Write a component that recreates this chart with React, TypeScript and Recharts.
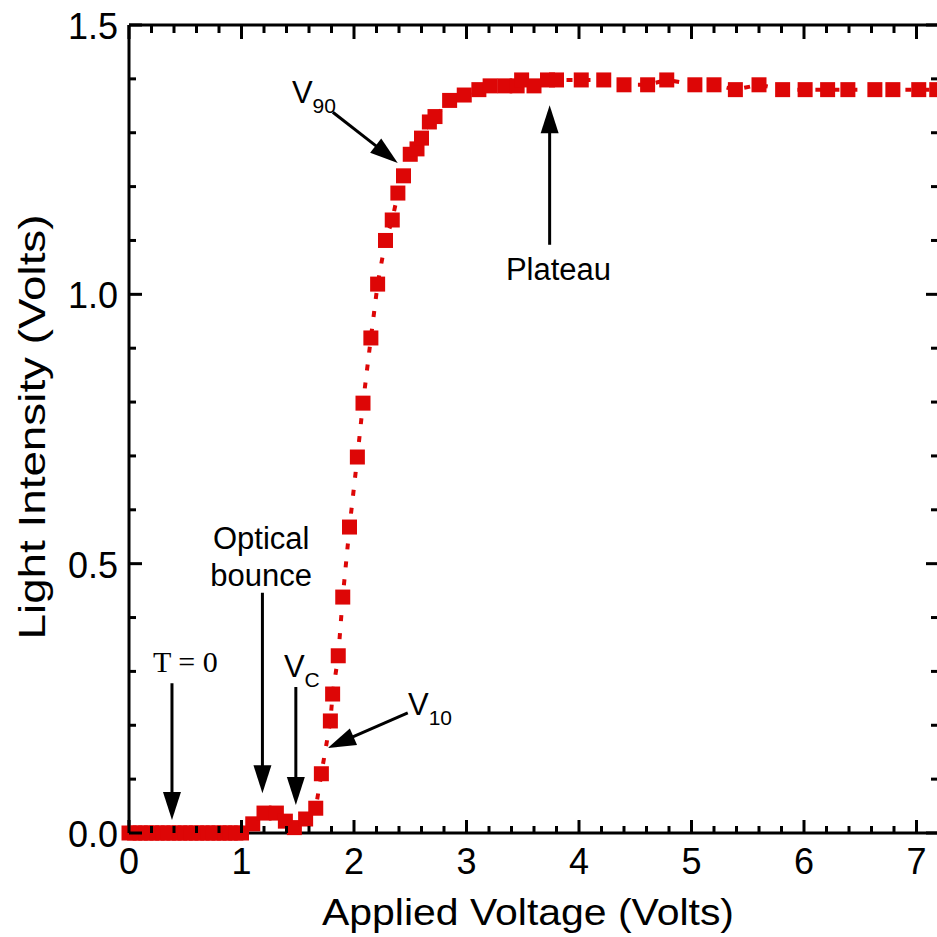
import React from 'react';
import { LineChart, Line, XAxis, YAxis, ReferenceLine, ReferenceDot } from 'recharts';

const voltage = [
  0, 0.05, 0.1, 0.15, 0.2, 0.25, 0.3, 0.35, 0.4, 0.45, 0.5, 0.55, 0.6, 0.65, 0.7, 0.75, 0.8, 0.85, 0.9, 0.95, 1.0,
  1.1, 1.2, 1.31, 1.39, 1.47, 1.57, 1.66, 1.71, 1.79, 1.81, 1.86, 1.9, 1.96, 2.03, 2.08, 2.15, 2.21, 2.28, 2.34,
  2.39, 2.44, 2.5, 2.56, 2.6, 2.67, 2.72, 2.85, 2.98, 3.11, 3.21, 3.34, 3.45, 3.49, 3.6, 3.72, 3.8, 4.02, 4.22,
  4.4, 4.61, 4.78, 5.03, 5.2, 5.39, 5.6, 5.81, 6.01, 6.21, 6.39, 6.63, 6.79, 7.02, 7.18,
];
const intensity = [
  0, 0, 0, 0, 0, 0, 0, 0, 0, 0, 0, 0, 0, 0, 0, 0, 0, 0, 0, 0, 0,
  0.017, 0.037, 0.037, 0.022, 0.01, 0.026, 0.046, 0.11, 0.208, 0.258, 0.329, 0.438, 0.568, 0.698, 0.798, 0.919,
  1.019, 1.1, 1.138, 1.188, 1.22, 1.26, 1.27, 1.29, 1.32, 1.33, 1.36, 1.37, 1.38, 1.387, 1.387, 1.387, 1.398,
  1.387, 1.398, 1.398, 1.398, 1.398, 1.389, 1.389, 1.398, 1.389, 1.389, 1.38, 1.389, 1.38, 1.38, 1.38, 1.38,
  1.38, 1.38, 1.38, 1.38,
];

const xTicks = [
  0, 0.2, 0.4, 0.6, 0.8, 1, 1.2, 1.4, 1.6, 1.8, 2, 2.2, 2.4, 2.6, 2.8, 3, 3.2, 3.4, 3.6, 3.8, 4, 4.2, 4.4, 4.6,
  4.8, 5, 5.2, 5.4, 5.6, 5.8, 6, 6.2, 6.4, 6.6, 6.8, 7, 7.2,
];
const yTicks = [0, 0.1, 0.2, 0.3, 0.4, 0.5, 0.6, 0.7, 0.8, 0.9, 1.0, 1.1, 1.2, 1.3, 1.4, 1.5];

// annotation arrows: tail -> tip, in data units
const arrows = [
  { from: [0.382, 0.278], to: [0.382, 0.024] },
  { from: [1.186, 0.446], to: [1.186, 0.074] },
  { from: [1.483, 0.271], to: [1.483, 0.052] },
  { from: [2.478, 0.223], to: [1.767, 0.158] },
  { from: [1.812, 1.338], to: [2.389, 1.244] },
  { from: [3.739, 1.092], to: [3.739, 1.351] },
];

const notes = [
  { x: 0.213, y: 0.299, text: 'T = 0', serif: true },
  { x: 3.35, y: 1.027, text: 'Plateau' },
];
const twoLine = { x: 1.175, y: 0.527, lines: ['Optical', 'bounce'] };
const vLabels = [
  { x: 1.377, y: 0.29, sub: 'C' },
  { x: 2.48, y: 0.219, sub: '10' },
  { x: 1.448, y: 1.355, sub: '90' },
];

const data = voltage.map((v, i) => ({ v, light: intensity[i] }));

const RED = '#dd0606';
const FONT = '"Liberation Sans", Arial, Helvetica, sans-serif';

const isMajorX = (v: number) => Math.abs(v - Math.round(v)) < 1e-6;
const isMajorY = (v: number) => Math.abs(v * 2 - Math.round(v * 2)) < 1e-6;

// all frame ticks point into the plot
const BottomTick = ({ x, y, payload }: any) => {
  const major = isMajorX(payload.value);
  return (
    <g>
      <line x1={x} y1={y} x2={x} y2={y - (major ? 13 : 7)} stroke="#000" strokeWidth={3} />
      {major && (
        <text x={x} y={y + 41} textAnchor="middle" fontSize={36} fontFamily={FONT} fill="#000">
          {payload.value}
        </text>
      )}
    </g>
  );
};

const TopTick = ({ x, y, payload }: any) => {
  const major = isMajorX(payload.value);
  return <line x1={x} y1={y} x2={x} y2={y + (major ? 14 : 8)} stroke="#000" strokeWidth={3} />;
};

const LeftTick = ({ x, y, payload }: any) => {
  const major = isMajorY(payload.value);
  return (
    <g>
      <line x1={x} y1={y} x2={x + (major ? 13 : 7)} y2={y} stroke="#000" strokeWidth={3} />
      {major && (
        <text x={x - 11} y={y + 14} textAnchor="end" fontSize={36} fontFamily={FONT} fill="#000">
          {payload.value.toFixed(1)}
        </text>
      )}
    </g>
  );
};

const RightTick = ({ x, y, payload }: any) => {
  const major = isMajorY(payload.value);
  return <line x1={x} y1={y} x2={x - (major ? 13 : 8)} y2={y} stroke="#000" strokeWidth={3} />;
};

const Square = ({ cx, cy }: any) => {
  if (cx == null || cy == null) return null;
  return <rect x={cx - 7.5} y={cy - 7.5} width={15} height={15} fill={RED} />;
};

const Arrow = ({ x1, y1, x2, y2 }: any) => {
  const dx = x2 - x1;
  const dy = y2 - y1;
  const len = Math.hypot(dx, dy) || 1;
  const ux = dx / len;
  const uy = dy / len;
  const hl = 28;
  const hw = 9;
  const bx = x2 - ux * hl;
  const by = y2 - uy * hl;
  const pts = `${x2},${y2} ${bx - uy * hw},${by + ux * hw} ${bx + uy * hw},${by - ux * hw}`;
  return (
    <g>
      <line x1={x1} y1={y1} x2={bx + ux * 2} y2={by + uy * 2} stroke="#000" strokeWidth={3} />
      <polygon points={pts} fill="#000" />
    </g>
  );
};

export default function App() {
  return (
    <div style={{ position: 'fixed', left: 0, top: 0, width: 937, height: 937, overflow: 'hidden', background: '#fff' }}>
      <LineChart width={950} height={937} data={data} margin={{ top: 24, right: 10, bottom: 0, left: 0 }}>
        <XAxis
          dataKey="v"
          type="number"
          domain={[0, 7.2]}
          ticks={xTicks}
          interval={0}
          height={104}
          tickSize={0}
          tickMargin={0}
          tickLine={false}
          tick={BottomTick}
          axisLine={{ stroke: '#000', strokeWidth: 3 }}
          label={({ viewBox }: any) => (
            <text
              x={528}
              y={viewBox.y + 92}
              textAnchor="middle"
              fontSize={36}
              textLength={412}
              lengthAdjust="spacingAndGlyphs"
              fontFamily={FONT}
              fill="#000"
            >
              Applied Voltage (Volts)
            </text>
          )}
        />
        <XAxis
          xAxisId="top"
          dataKey="v"
          orientation="top"
          type="number"
          domain={[0, 7.2]}
          ticks={xTicks}
          interval={0}
          height={1}
          tickSize={0}
          tickMargin={0}
          tickLine={false}
          tick={TopTick}
          axisLine={{ stroke: '#000', strokeWidth: 3 }}
        />
        <YAxis
          type="number"
          domain={[0, 1.5]}
          ticks={yTicks}
          interval={0}
          width={129}
          tickSize={0}
          tickMargin={0}
          tickLine={false}
          tick={LeftTick}
          axisLine={{ stroke: '#000', strokeWidth: 3 }}
          label={() => {
            const cy = 427;
            return (
              <text
                x={45}
                y={cy}
                transform={`rotate(-90, 45, ${cy})`}
                textAnchor="middle"
                fontSize={36}
                textLength={425}
                lengthAdjust="spacingAndGlyphs"
                fontFamily={FONT}
                fill="#000"
              >
                Light Intensity (Volts)
              </text>
            );
          }}
        />
        <YAxis
          yAxisId="right"
          orientation="right"
          type="number"
          domain={[0, 1.5]}
          ticks={yTicks}
          interval={0}
          width={1}
          tickSize={0}
          tickMargin={0}
          tickLine={false}
          tick={RightTick}
          axisLine={{ stroke: '#000', strokeWidth: 3 }}
        />

        {arrows.map((a, i) => (
          <ReferenceLine
            key={`ar${i}`}
            segment={[
              { x: a.from[0], y: a.from[1] },
              { x: a.to[0], y: a.to[1] },
            ]}
            ifOverflow="visible"
            shape={Arrow}
          />
        ))}

        {notes.map((n, i) => (
          <ReferenceDot
            key={`n${i}`}
            x={n.x}
            y={n.y}
            r={0}
            ifOverflow="visible"
            shape={({ cx, cy }: any) => (
              <text
                x={cx}
                y={cy}
                fontSize={n.serif ? 30 : 31}
                fontFamily={n.serif ? '"Liberation Serif", "Times New Roman", serif' : FONT}
                fill="#000"
              >
                {n.text}
              </text>
            )}
          />
        ))}

        <ReferenceDot
          x={twoLine.x}
          y={twoLine.y}
          r={0}
          ifOverflow="visible"
          shape={({ cx, cy }: any) => (
            <text x={cx} y={cy} textAnchor="middle" fontSize={31} fontFamily={FONT} fill="#000">
              <tspan x={cx}>{twoLine.lines[0]}</tspan>
              <tspan x={cx} dy={37}>
                {twoLine.lines[1]}
              </tspan>
            </text>
          )}
        />

        {vLabels.map((l, i) => (
          <ReferenceDot
            key={`v${i}`}
            x={l.x}
            y={l.y}
            r={0}
            ifOverflow="visible"
            shape={({ cx, cy }: any) => (
              <text x={cx} y={cy} fontSize={31} fontFamily={FONT} fill="#000">
                V
                <tspan fontSize={21} dy={10}>
                  {l.sub}
                </tspan>
              </text>
            )}
          />
        ))}

        {/* invisible copy so the top and right frame axes get their scales */}
        <Line
          xAxisId="top"
          yAxisId="right"
          dataKey="light"
          stroke="none"
          dot={false}
          activeDot={false}
          legendType="none"
          isAnimationActive={false}
        />
        <Line
          dataKey="light"
          type="linear"
          stroke={RED}
          strokeWidth={4}
          strokeDasharray="6 12"
          dot={Square}
          activeDot={false}
          isAnimationActive={false}
        />
      </LineChart>
    </div>
  );
}
